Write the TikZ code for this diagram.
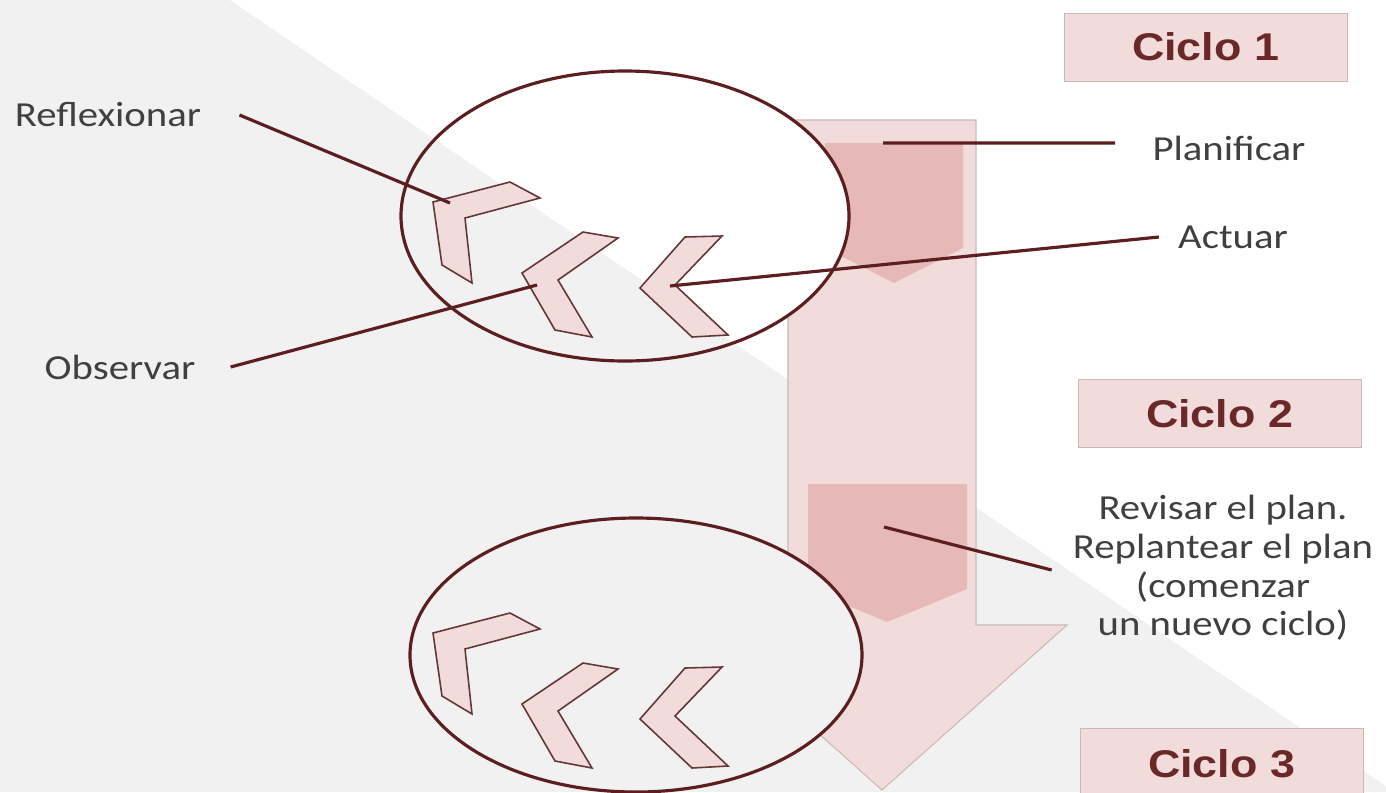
\documentclass[tikz,border=0pt]{standalone}
\usepackage{fontspec}
\setmainfont{Carlito}
\newfontfamily\titular{Liberation Sans}
\usetikzlibrary{positioning}
\definecolor{fondogris}{HTML}{F1F1F1}
\definecolor{rosa}{HTML}{F2DCDB}
\definecolor{rosaborde}{HTML}{CDB8B8}
\definecolor{rosaoscuro}{HTML}{E6B9B8}
\definecolor{granate}{HTML}{5C1E1E}
\definecolor{titulo}{HTML}{6B2828}
\definecolor{textogris}{HTML}{404040}
\newcommand{\ancho}[1]{\scalebox{1.16}[1]{#1}}
\newcommand{\fondo}{%
  \fill[fondogris] (0,0) rectangle (1386,792);
  \fill[white] (230,0) -- (1386,0) -- (1386,786) -- cycle;}
\newcommand{\chevrones}{%
  \draw[chevron] (433,202) -- (510,182) -- (540,198) -- (465,218) -- (472,283) -- (442,265) -- cycle;
  \draw[chevron] (522,273) -- (583,232) -- (618,238) -- (558,280) -- (592,337) -- (555,330) -- cycle;
  \draw[chevron] (640,288) -- (685,237) -- (722,236) -- (675,285) -- (728,335) -- (692,337) -- cycle;}

\begin{document}
\begin{tikzpicture}[x=0.02cm,y=-0.02cm,
  flecha/.style={fill=rosa,draw=rosaborde,line width=0.6pt},
  chevron/.style={fill=rosa,draw=granate!75!gray,line width=0.9pt},
  aro/.style={draw=granate,line width=1.8pt},
  conector/.style={draw=granate,line width=1.8pt},
  etiqueta/.style={font=\fontsize{20}{22}\selectfont,text=textogris,inner sep=0pt},
  ciclo/.style={draw=rosaborde,fill=rosa,minimum width=5.66cm,minimum height=1.36cm,inner sep=0pt,
    font=\titular\bfseries\fontsize{22}{26}\selectfont,text=titulo}]
\clip (0,0) rectangle (1386,792);
\fondo
% flecha de los ciclos
\draw[flecha] (788,120) -- (976,120) -- (976,625) -- (1067,625) -- (882,790) -- (697,625) -- (788,625) -- cycle;
\fill[rosaoscuro] (825,143) -- (963,143) -- (963,248) -- (894,283) -- (825,248) -- cycle;
\fill[rosaoscuro] (808,484) -- (967,484) -- (967,589) -- (887,622) -- (808,589) -- cycle;
% elipses
\foreach \cx/\cy/\rx/\ry in {625/216/224/145, 636/655/226/137} {
  \begin{scope}
    \clip (\cx,\cy) ellipse [x radius=\rx, y radius=\ry];
    \fondo
  \end{scope}
  \draw[aro] (\cx,\cy) ellipse [x radius=\rx, y radius=\ry];
}
\foreach \dy in {0,431} {
  \begin{scope}[shift={(0,\dy)}]
    \chevrones
  \end{scope}
}
\coordinate (pRefl) at (450,203);
\coordinate (pObs) at (537,285);
\coordinate (pPlan) at (883,143);
\coordinate (pAct) at (670,286);
\coordinate (pRev) at (884,527);
% textos
\node[etiqueta] (refl) at (108,115) {\ancho{Reflexionar}};
\node[etiqueta] (obs) at (120,367) {\ancho{Observar}};
\node[etiqueta] (plan) at (1229,148) {\ancho{Planificar}};
\node[etiqueta] (act) at (1233,237) {\ancho{Actuar}};
\node[etiqueta] (rev) at (1223,570) {\ancho{\begin{tabular}{@{}c@{}}Revisar el plan.\\Replantear el plan\\(comenzar\\un nuevo ciclo)\end{tabular}}};
\draw[conector] ([xshift=0.76cm]refl.east) -- (pRefl);
\draw[conector] ([xshift=0.7cm]obs.east) -- (pObs);
\draw[conector] (pPlan) -- ([xshift=-0.74cm,yshift=0.1cm]plan.west);
\draw[conector] (pAct) -- ([xshift=-0.38cm]act.west);
\draw[conector] (pRev) -- ([xshift=-0.42cm]rev.west);
\node[ciclo] (c1) at (1205.5,47) {\ancho{Ciclo 1}};
\node[ciclo] (c2) at (1219.5,413.5) {\ancho{Ciclo 2}};
\node[ciclo,minimum height=1.44cm] (c3) at (1221.5,764) {\ancho{Ciclo 3}};
\end{tikzpicture}
\end{document}
